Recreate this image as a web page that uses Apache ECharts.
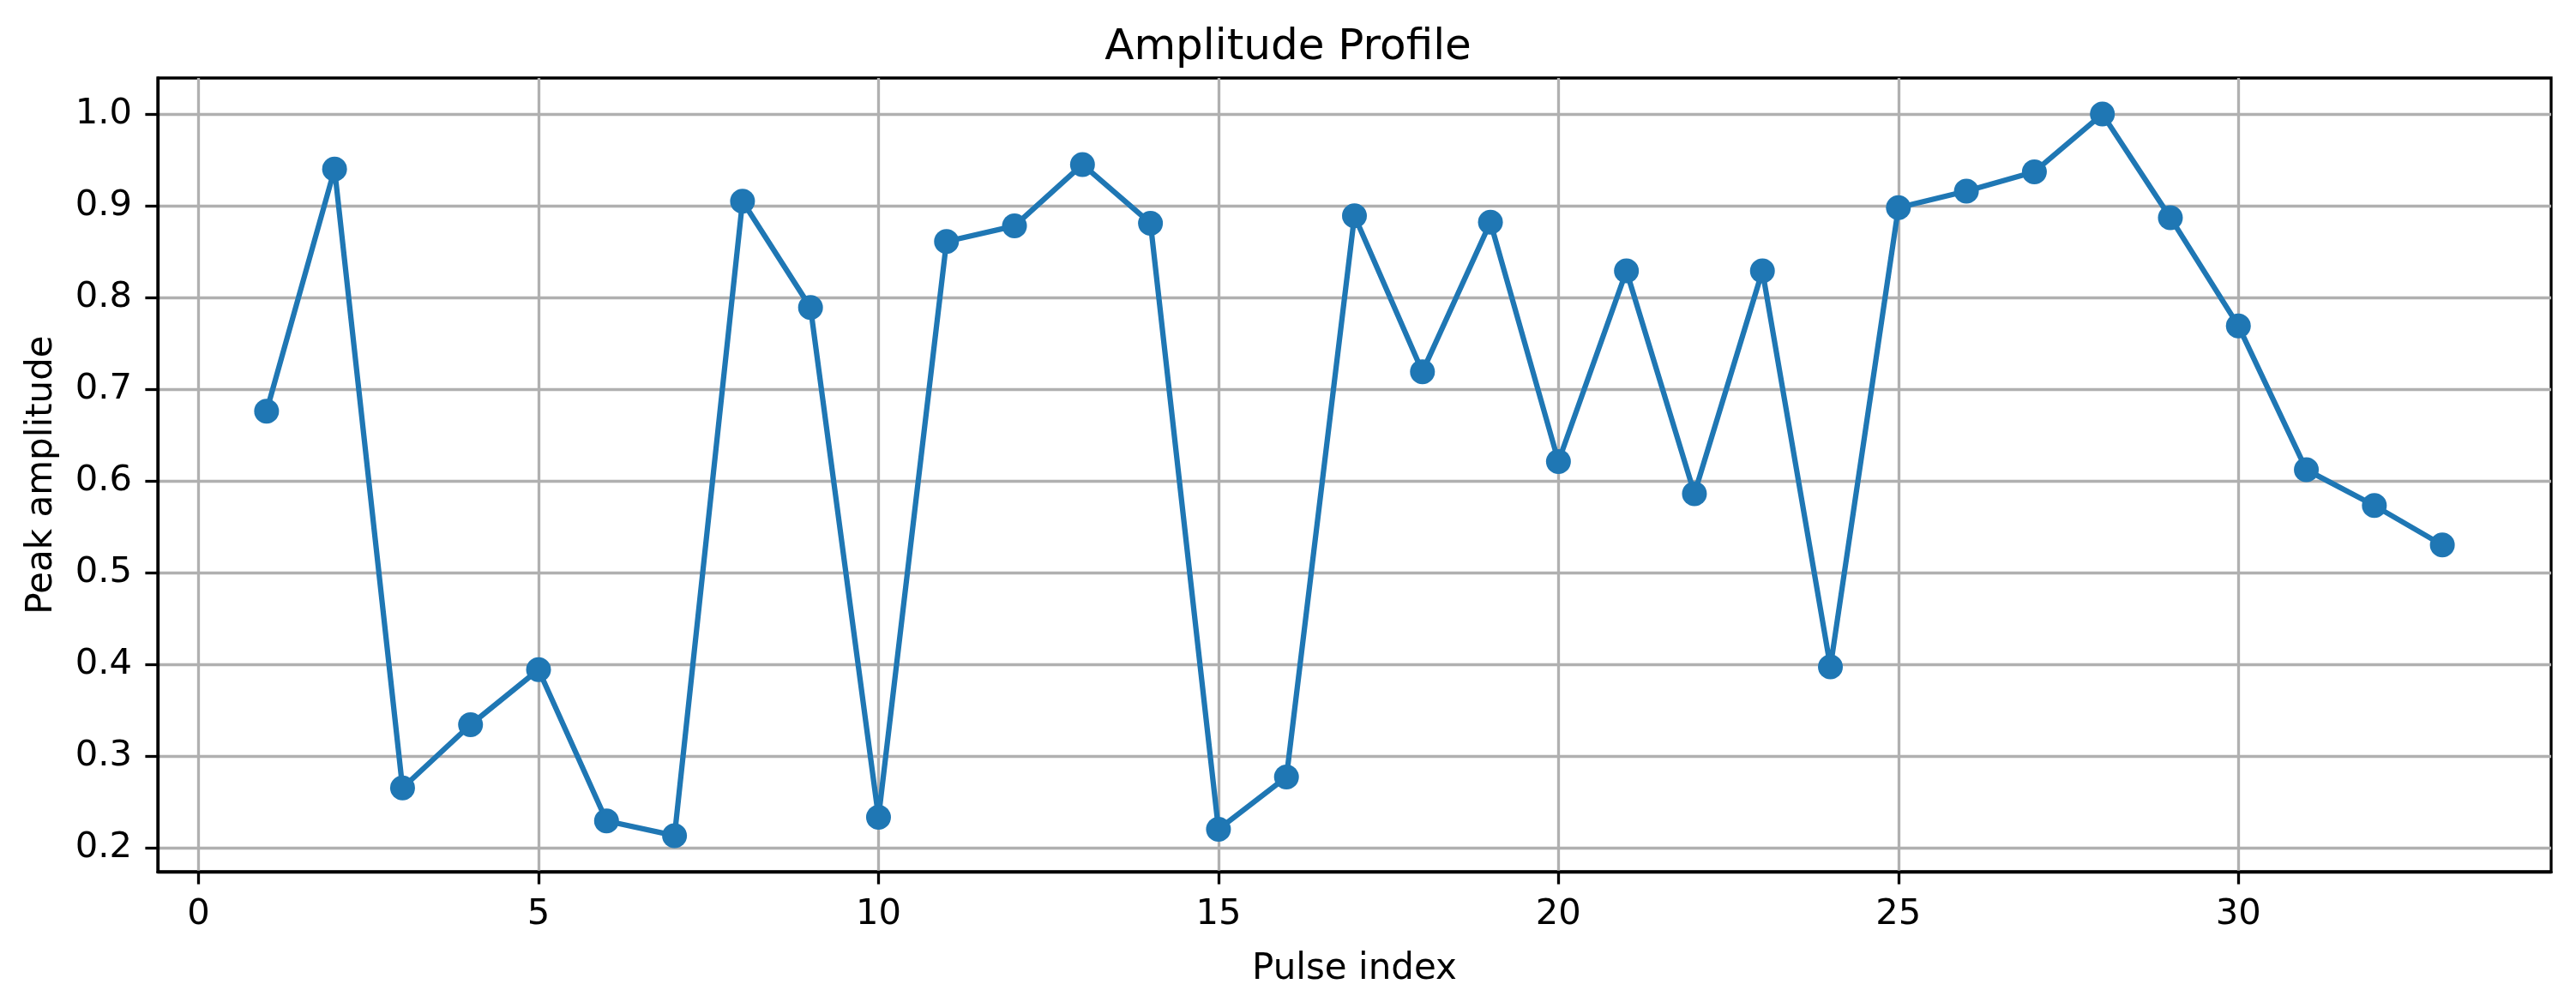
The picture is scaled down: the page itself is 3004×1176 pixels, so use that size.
<!DOCTYPE html>
<html>
<head>
  <meta charset="UTF-8">
  <title>Amplitude Profile</title>
  <style>
    html, body { margin: 0; padding: 0; background: #fff; }
    #chart { width: 3004px; height: 1176px; }
  </style>
</head>
<body>
<div id="chart"></div>
<script src="https://cdn.jsdelivr.net/npm/echarts@6/dist/echarts.min.js"></script>
<script>
  // pulse index and peak amplitude
  const pulseIndex = [1, 2, 3, 4, 5, 6, 7, 8, 9, 10, 11, 12, 13, 14, 15, 16, 17,
    18, 19, 20, 21, 22, 23, 24, 25, 26, 27, 28, 29, 30, 31, 32, 33];
  const peakAmp = [0.676, 0.940, 0.265, 0.334, 0.394, 0.229, 0.213, 0.905, 0.789,
    0.233, 0.861, 0.878, 0.945, 0.881, 0.220, 0.277, 0.889, 0.719, 0.882, 0.621,
    0.829, 0.586, 0.829, 0.397, 0.898, 0.916, 0.937, 1.000, 0.887, 0.769, 0.612,
    0.573, 0.530];
  const xTicks = [0, 5, 10, 15, 20, 25, 30];
  const yTicks = [0.2, 0.3, 0.4, 0.5, 0.6, 0.7, 0.8, 0.9, 1.0];

  ~function () {
    const font = 'DejaVu Sans';
    const blue = '#1f77b4';
    const gridColor = '#b0b0b0';

    // matplotlib style 5% margins
    const pad = (lo, hi) => [lo - (hi - lo) * 0.05, hi + (hi - lo) * 0.05];
    const xr = pad(Math.min(...pulseIndex), Math.max(...pulseIndex));
    const yr = pad(Math.min(...peakAmp), Math.max(...peakAmp));

    const chart = echarts.init(document.getElementById('chart'), null, {renderer: 'canvas'});
    chart.setOption({
      animation: false,
      backgroundColor: '#fff',
      title: {
        text: 'Amplitude Profile',
        left: 'center',
        top: 26,
        textStyle: {fontFamily: font, fontSize: 50, fontWeight: 'normal', color: '#000'}
      },
      grid: {
        left: 184, right: 29, top: 91, bottom: 159,
        show: true, borderColor: '#000', borderWidth: 3.3, backgroundColor: 'transparent'
      },
      xAxis: {
        type: 'value',
        min: xr[0], max: xr[1],
        name: 'Pulse index',
        nameLocation: 'middle',
        nameGap: 93,
        nameTextStyle: {fontFamily: font, fontSize: 42, color: '#000'},
        axisLine: {show: true, onZero: false, lineStyle: {color: '#000', width: 3.3}},
        axisTick: {show: true, inside: false, length: 14.6, customValues: xTicks,
          lineStyle: {color: '#000', width: 3.3}},
        axisLabel: {fontFamily: font, fontSize: 41.7, color: '#000', margin: 29,
          customValues: xTicks, formatter: v => String(v)},
        splitLine: {show: true, lineStyle: {color: gridColor, width: 3.3}}
      },
      yAxis: {
        type: 'value',
        min: yr[0], max: yr[1],
        name: 'Peak amplitude',
        nameLocation: 'middle',
        nameGap: 114,
        nameTextStyle: {fontFamily: font, fontSize: 42, color: '#000'},
        axisLine: {show: true, onZero: false, lineStyle: {color: '#000', width: 3.3}},
        axisTick: {show: true, inside: false, length: 14.6, customValues: yTicks,
          lineStyle: {color: '#000', width: 3.3}},
        axisLabel: {fontFamily: font, fontSize: 41.7, color: '#000', margin: 30,
          customValues: yTicks, formatter: v => v.toFixed(1)},
        splitLine: {show: true, lineStyle: {color: gridColor, width: 3.3}}
      },
      series: [{
        type: 'line',
        data: pulseIndex.map((x, i) => [x, peakAmp[i]]),
        symbol: 'circle',
        symbolSize: 29,
        showAllSymbol: true,
        itemStyle: {color: blue},
        lineStyle: {color: blue, width: 6.25},
        z: 5
      }]
    });
  }();
</script>
</body>
</html>
